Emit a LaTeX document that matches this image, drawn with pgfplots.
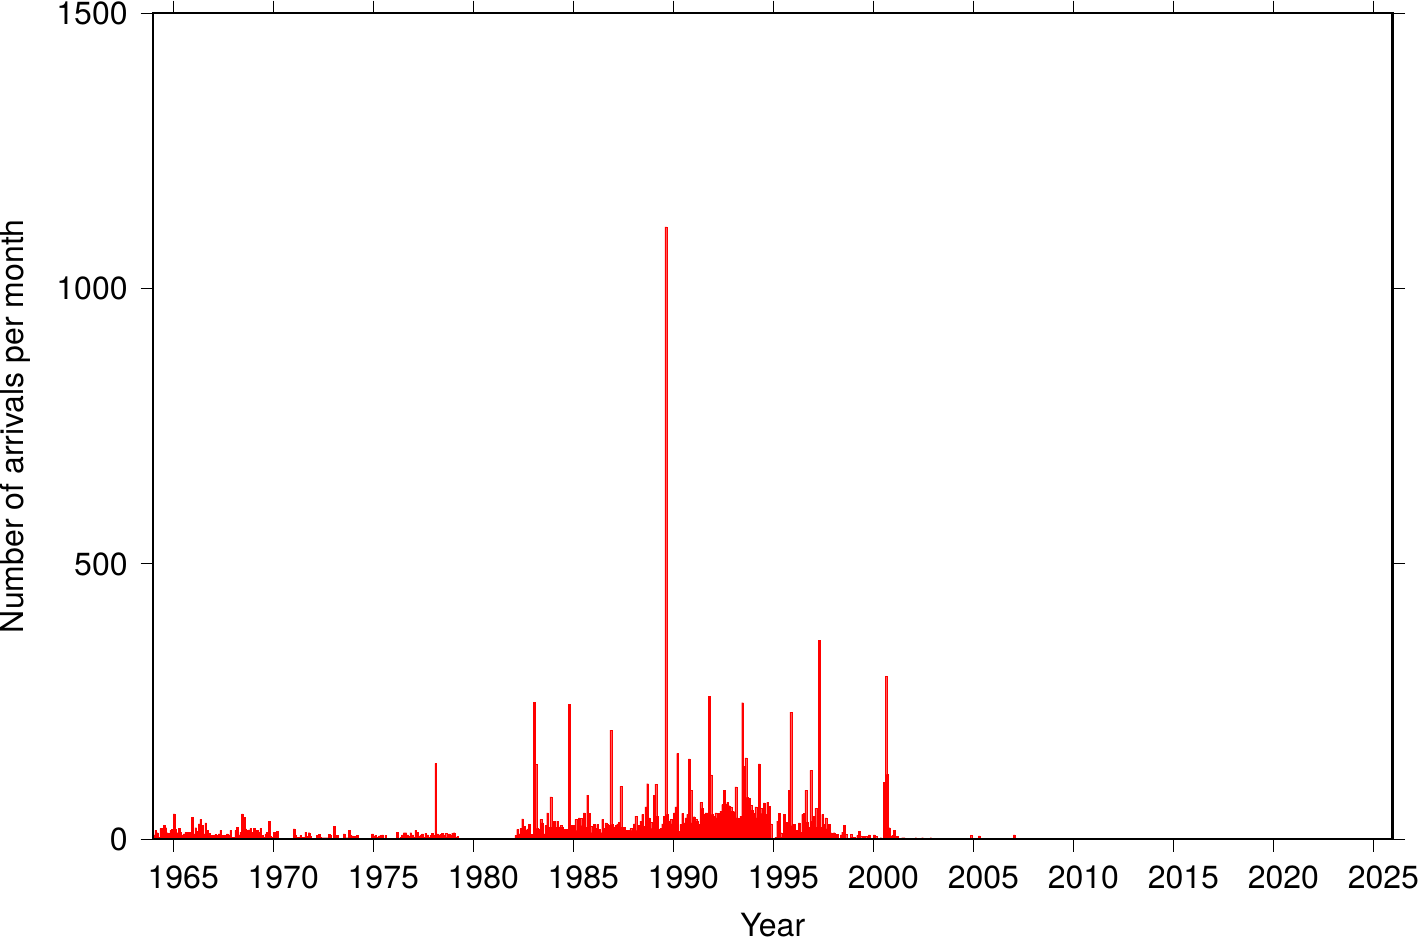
\documentclass[border=0pt]{standalone}
\usepackage{fontspec}
\setmainfont{TeX Gyre Heros}
\usepackage{pgfplots}
\usepackage{pgfplotstable}
\pgfplotsset{compat=1.18}
% m = month index counted from January 1964, v = arrivals in that month
\pgfplotstableread{
m v
0 8
1 16
2 12
3 4
4 20
5 20
6 25
7 21
8 12
9 11
10 16
11 18
12 46
13 18
14 12
15 20
16 13
17 8
18 10
19 13
20 13
21 13
22 4
23 40
24 10
25 21
26 15
27 28
28 36
29 25
30 10
31 30
32 16
33 11
34 7
35 7
36 7
37 9
38 7
39 10
40 16
41 7
42 7
43 7
44 10
45 8
46 16
47 4
48 4
49 16
50 22
51 8
52 13
53 46
54 40
55 19
56 16
57 17
58 20
59 13
60 20
61 8
62 16
63 13
64 20
65 7
66 4
67 10
68 13
69 33
70 5
71 4
72 13
73 11
74 14
84 19
85 7
86 4
87 4
88 7
89 4
90 4
91 13
92 5
93 12
94 5
98 7
99 9
100 4
101 3
102 3
103 3
104 3
105 9
106 7
108 24
109 3
110 7
111 2
112 2
114 10
115 3
116 3
117 16
118 7
119 6
120 5
121 5
122 7
131 10
132 6
133 7
134 4
135 6
136 7
137 8
139 7
146 13
148 4
149 8
150 12
151 12
152 8
153 5
154 12
155 8
156 4
157 16
158 13
159 5
160 8
161 10
162 4
163 11
164 8
165 4
166 7
167 11
168 7
169 138
170 10
171 8
172 9
173 11
174 7
175 11
176 4
177 10
178 7
179 11
180 12
181 4
182 5
217 7
218 18
219 10
220 20
221 37
222 24
223 16
224 19
225 27
226 9
227 8
228 249
229 136
230 20
231 18
232 36
233 30
234 10
235 25
236 48
237 22
238 77
239 22
240 33
241 22
242 33
243 22
244 25
245 22
246 18
247 18
248 18
249 245
250 25
251 24
252 25
253 36
254 16
255 39
256 38
257 25
258 48
259 22
260 80
261 47
262 24
263 12
264 27
265 20
266 27
267 18
268 12
269 36
270 20
271 30
272 27
273 25
274 198
275 27
276 22
277 25
278 28
279 31
280 96
281 22
282 22
283 16
284 16
285 16
286 20
287 16
288 28
289 42
290 16
291 25
292 33
293 45
294 24
295 59
296 101
297 39
298 31
299 20
300 80
301 100
302 42
303 18
304 20
305 28
306 42
307 1112
308 45
309 33
310 36
311 28
312 48
313 59
314 156
315 15
316 27
317 47
318 30
319 39
320 45
321 146
322 89
323 30
324 41
325 36
326 33
327 27
328 67
329 56
330 45
331 48
332 48
333 260
334 117
335 45
336 42
337 48
338 39
339 47
340 51
341 63
342 89
343 63
344 67
345 61
346 59
347 51
348 50
349 95
350 39
351 38
352 42
353 248
354 133
355 148
356 76
357 74
358 62
359 53
360 47
361 59
362 39
363 137
364 56
365 47
366 66
367 45
368 67
369 60
370 28
372 2
373 4
374 33
375 47
376 12
377 4
378 45
379 31
380 30
381 89
382 231
383 25
384 27
385 16
386 16
387 30
388 13
389 45
390 47
391 89
392 31
393 22
394 125
395 33
396 42
397 56
398 22
399 361
400 22
401 45
402 27
403 39
404 19
405 27
406 12
407 10
408 12
409 9
410 9
412 8
413 13
414 25
415 9
418 9
419 4
420 4
422 7
423 15
424 6
426 5
427 5
429 8
431 2
432 8
433 5
436 3
438 103
439 296
440 118
441 21
442 5
443 7
444 16
445 5
446 5
449 3
450 3
457 3
461 3
466 3
489 2
490 7
495 6
516 8
}\arrivals
\begin{document}
\begin{tikzpicture}
\begin{axis}[
  scale only axis,
  width=619.5pt, height=413pt,
  xmin=1964, xmax=2025.95,
  ymin=0, ymax=1500,
  xtick={1965,1970,...,2025},
  ytick={0,500,1000,1500},
  scaled ticks=false,
  /pgf/number format/1000 sep={},
  /pgf/number format/assume math mode=true,
  tick align=outside,
  tick pos=both,
  major tick length=6.3pt,
  minor tick num=0,
  axis line style={line width=1.15pt, black},
  every tick/.style={line width=0.55pt, black},
  tick label style={font=\fontsize{16}{19}\selectfont, inner sep=0pt},
  xticklabel style={xshift=5pt, yshift=-6.7pt},
  yticklabel style={xshift=-6.3pt},
  every axis x label/.style={at={(axis description cs:0.5,0)}, yshift=-48.5pt, anchor=base, inner sep=0pt, font=\fontsize{16}{19}\selectfont},
  every axis y label/.style={at={(axis description cs:0,0.5)}, xshift=-69pt, rotate=90, anchor=center, inner sep=0pt, font=\fontsize{16}{19}\selectfont},
  xlabel={Year\vphantom{y}},
  ylabel={Number of arrivals per month},
  axis on top,
]
\addplot[ybar, bar width=0.08333, bar shift=0pt, fill=red, draw=red, line width=0.1pt]
  table[x expr={1964+(\thisrow{m}+0.5)/12}, y=v] {\arrivals};
\end{axis}
\end{tikzpicture}
\end{document}
